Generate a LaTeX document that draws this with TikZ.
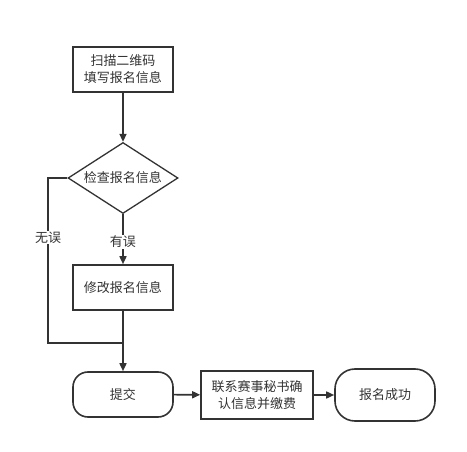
\documentclass[tikz,border=0pt]{standalone}
\usepackage{fontspec}
\setmainfont{Noto Sans CJK SC}
\usetikzlibrary{arrows.meta,shapes.geometric}
\definecolor{ln}{HTML}{333333}
\begin{document}
\begin{tikzpicture}[x=1pt,y=-1pt,
  every node/.style={font=\fontsize{13}{17}\selectfont, text=ln},
  boxn/.style={draw=ln, line width=1.6pt, minimum width=100pt, minimum height=45pt, inner sep=0pt, align=center},
  term/.style={boxn, rounded corners=15pt},
  dia/.style={draw=ln, line width=1.3pt, diamond, aspect=1.55, minimum width=110pt, minimum height=71pt, inner sep=0pt},
  conn/.style={draw=ln, line width=1.6pt, -{Triangle[length=8pt,width=7pt]}},
  lbl/.style={fill=white, inner sep=1pt}]
\useasboundingbox (0,0) rectangle (467,452);
\node[boxn] (scan) at (123,69.5) {扫描二维码\\填写报名信息};
\node[dia] (check) at (123,178) {检查报名信息};
\node[boxn] (fix) at (123,287.5) {修改报名信息};
\node[term] (submit) at (123,394.5) {提交};
\node[boxn, minimum width=112pt, minimum height=48pt] (contact) at (257,395) {联系赛事秘书确\\认信息并缴费};
\node[term, rounded corners=20pt, minimum height=52pt] (done) at (385,395) {报名成功};
\coordinate (m) at (123,343);
\draw[conn] (scan) -- (check);
\draw[conn] (check) -- node[lbl, pos=0.55] {有误} (fix);
\draw[draw=ln, line width=1.6pt] (check.west) -- (48,178) -- node[lbl, pos=0.36] {无误} (48,343) -- (m);
\draw[conn] (fix) -- (submit);
\draw[conn] (submit) -- (contact);
\draw[conn] (contact) -- (done);
\end{tikzpicture}
\end{document}
